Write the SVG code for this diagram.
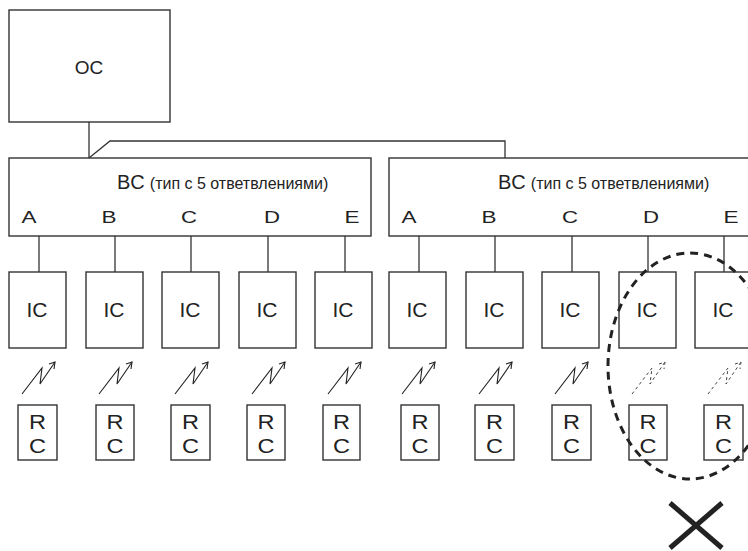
<svg xmlns="http://www.w3.org/2000/svg" width="748" height="551" viewBox="0 0 748 551">
<style>
.box{fill:#fff;stroke:#333;stroke-width:1.4}
.ln{fill:none;stroke:#333;stroke-width:1.3}
.lt{fill:none;stroke:#222;stroke-width:1.1}
.ltd{fill:none;stroke:#444;stroke-width:1;stroke-dasharray:3 3}
text{font-family:"Liberation Sans",Arial,sans-serif;fill:#222}
.big{font-size:21px;text-anchor:middle}
.oc{font-size:19px;text-anchor:middle}
.lbl{font-size:17px;text-anchor:middle}
.rc{font-size:20px;text-anchor:middle}
.sm{font-size:16px}
</style>
<defs>
<g id="bolt"><polyline class="lt" points="0,0 20,-26 18,-10 33,-32"/><polyline class="lt" points="27,-30 33,-32 32,-25"/></g>
<g id="boltd"><polyline class="ltd" points="0,0 20,-26 18,-10 33,-32"/><polyline class="ltd" points="27,-30 33,-32 32,-25"/></g>
</defs>
<g id="connectors">
<polyline class="ln" points="89,122 89,158"/>
<polyline class="ln" points="89,158 110,141 505,141 505,158"/>
<line class="ln" x1="39" y1="236" x2="39" y2="272"/>
<line class="ln" x1="115" y1="236" x2="115" y2="272"/>
<line class="ln" x1="191" y1="236" x2="191" y2="272"/>
<line class="ln" x1="268" y1="236" x2="268" y2="272"/>
<line class="ln" x1="345" y1="236" x2="345" y2="272"/>
<line class="ln" x1="419" y1="236" x2="419" y2="272"/>
<line class="ln" x1="495" y1="236" x2="495" y2="272"/>
<line class="ln" x1="572" y1="236" x2="572" y2="272"/>
<line class="ln" x1="648" y1="236" x2="648" y2="272"/>
<line class="ln" x1="724" y1="236" x2="724" y2="272"/>
<use href="#bolt" x="22" y="394"/>
<use href="#bolt" x="99" y="394"/>
<use href="#bolt" x="175" y="394"/>
<use href="#bolt" x="252" y="394"/>
<use href="#bolt" x="328" y="394"/>
<use href="#bolt" x="402" y="394"/>
<use href="#bolt" x="479" y="394"/>
<use href="#bolt" x="555" y="394"/>
<use href="#boltd" x="632" y="394"/>
<use href="#boltd" x="708" y="394"/>
</g>
<g id="oc"><rect class="box" x="9" y="10" width="161" height="112"/><text class="oc" x="89" y="74">OC</text></g>
<g id="bc1"><rect class="box" x="9" y="158" width="362" height="78"/>
<text x="117" y="189"><tspan style="font-size:20px">BC</tspan><tspan class="sm" dx="5">(тип с 5 ответвлениями)</tspan></text>
<text class="lbl" x="29" y="223" textLength="15" lengthAdjust="spacingAndGlyphs">A</text><text class="lbl" x="109" y="223" textLength="15" lengthAdjust="spacingAndGlyphs">B</text><text class="lbl" x="189" y="223" textLength="16" lengthAdjust="spacingAndGlyphs">C</text><text class="lbl" x="272" y="223" textLength="16" lengthAdjust="spacingAndGlyphs">D</text><text class="lbl" x="352" y="223" textLength="15" lengthAdjust="spacingAndGlyphs">E</text></g>
<g id="bc2"><rect class="box" x="389" y="158" width="362" height="78"/>
<text x="498" y="189"><tspan style="font-size:20px">BC</tspan><tspan class="sm" dx="5">(тип с 5 ответвлениями)</tspan></text>
<text class="lbl" x="409" y="223" textLength="15" lengthAdjust="spacingAndGlyphs">A</text><text class="lbl" x="489" y="223" textLength="15" lengthAdjust="spacingAndGlyphs">B</text><text class="lbl" x="570" y="223" textLength="16" lengthAdjust="spacingAndGlyphs">C</text><text class="lbl" x="651" y="223" textLength="16" lengthAdjust="spacingAndGlyphs">D</text><text class="lbl" x="731" y="223" textLength="15" lengthAdjust="spacingAndGlyphs">E</text></g>
<g id="ic1"><rect class="box" x="9" y="272" width="57" height="76"/><text class="big" x="37" y="317">IC</text></g>
<g id="ic2"><rect class="box" x="86" y="272" width="57" height="76"/><text class="big" x="114" y="317">IC</text></g>
<g id="ic3"><rect class="box" x="162" y="272" width="57" height="76"/><text class="big" x="190" y="317">IC</text></g>
<g id="ic4"><rect class="box" x="239" y="272" width="57" height="76"/><text class="big" x="267" y="317">IC</text></g>
<g id="ic5"><rect class="box" x="315" y="272" width="57" height="76"/><text class="big" x="343" y="317">IC</text></g>
<g id="ic6"><rect class="box" x="389" y="272" width="57" height="76"/><text class="big" x="417" y="317">IC</text></g>
<g id="ic7"><rect class="box" x="466" y="272" width="57" height="76"/><text class="big" x="494" y="317">IC</text></g>
<g id="ic8"><rect class="box" x="542" y="272" width="57" height="76"/><text class="big" x="570" y="317">IC</text></g>
<g id="ic9"><rect class="box" x="619" y="272" width="57" height="76"/><text class="big" x="647" y="317">IC</text></g>
<g id="ic10"><rect class="box" x="695" y="272" width="57" height="76"/><text class="big" x="723" y="317">IC</text></g>
<g id="rc1"><rect class="box" x="18" y="405" width="39" height="55"/><text class="rc" x="37.5" y="429" textLength="17" lengthAdjust="spacingAndGlyphs">R</text><text class="rc" x="37.5" y="453" textLength="17" lengthAdjust="spacingAndGlyphs">C</text></g>
<g id="rc2"><rect class="box" x="96" y="405" width="38" height="55"/><text class="rc" x="115" y="429" textLength="17" lengthAdjust="spacingAndGlyphs">R</text><text class="rc" x="115" y="453" textLength="17" lengthAdjust="spacingAndGlyphs">C</text></g>
<g id="rc3"><rect class="box" x="171" y="405" width="39" height="55"/><text class="rc" x="190.5" y="429" textLength="17" lengthAdjust="spacingAndGlyphs">R</text><text class="rc" x="190.5" y="453" textLength="17" lengthAdjust="spacingAndGlyphs">C</text></g>
<g id="rc4"><rect class="box" x="247" y="405" width="38" height="55"/><text class="rc" x="266" y="429" textLength="17" lengthAdjust="spacingAndGlyphs">R</text><text class="rc" x="266" y="453" textLength="17" lengthAdjust="spacingAndGlyphs">C</text></g>
<g id="rc5"><rect class="box" x="323" y="405" width="37" height="55"/><text class="rc" x="341.5" y="429" textLength="17" lengthAdjust="spacingAndGlyphs">R</text><text class="rc" x="341.5" y="453" textLength="17" lengthAdjust="spacingAndGlyphs">C</text></g>
<g id="rc6"><rect class="box" x="401" y="405" width="38" height="55"/><text class="rc" x="420" y="429" textLength="17" lengthAdjust="spacingAndGlyphs">R</text><text class="rc" x="420" y="453" textLength="17" lengthAdjust="spacingAndGlyphs">C</text></g>
<g id="rc7"><rect class="box" x="475" y="405" width="39" height="55"/><text class="rc" x="494.5" y="429" textLength="17" lengthAdjust="spacingAndGlyphs">R</text><text class="rc" x="494.5" y="453" textLength="17" lengthAdjust="spacingAndGlyphs">C</text></g>
<g id="rc8"><rect class="box" x="552" y="405" width="39" height="55"/><text class="rc" x="571.5" y="429" textLength="17" lengthAdjust="spacingAndGlyphs">R</text><text class="rc" x="571.5" y="453" textLength="17" lengthAdjust="spacingAndGlyphs">C</text></g>
<g id="rc9"><rect class="box" x="629" y="405" width="38" height="55"/><text class="rc" x="648" y="429" textLength="17" lengthAdjust="spacingAndGlyphs">R</text><text class="rc" x="648" y="453" textLength="17" lengthAdjust="spacingAndGlyphs">C</text></g>
<g id="rc10"><rect class="box" x="704" y="405" width="39" height="55"/><text class="rc" x="723.5" y="429" textLength="17" lengthAdjust="spacingAndGlyphs">R</text><text class="rc" x="723.5" y="453" textLength="17" lengthAdjust="spacingAndGlyphs">C</text></g>
<g id="exclusion">
<ellipse cx="690" cy="366" rx="82" ry="113" fill="none" stroke="#222" stroke-width="3" stroke-dasharray="8 6"/>
<line x1="670" y1="503" x2="722" y2="548" stroke="#222" stroke-width="5"/>
<line x1="722" y1="503" x2="670" y2="548" stroke="#222" stroke-width="5"/>
</g>
</svg>
